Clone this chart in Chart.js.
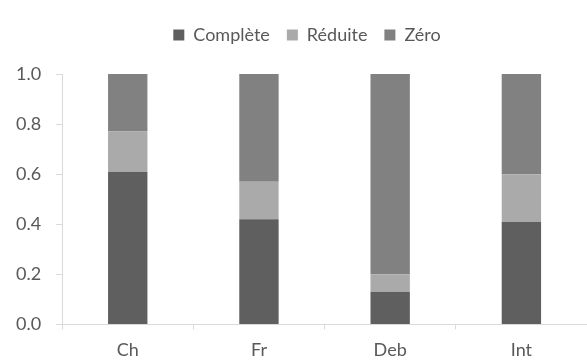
<!DOCTYPE html>
<html>
<head>
<meta charset="utf-8">
<script src="https://cdn.jsdelivr.net/npm/chart.js@4"></script>
<style>
  html, body { margin: 0; padding: 0; background: #fff; }
</style>
</head>
<body>
<canvas id="myChart" width="587" height="363"></canvas>
<script>
const categories = ['Ch', 'Fr', 'Deb', 'Int']
const completeValues = [0.61, 0.42, 0.13, 0.41]
const reduiteValues = [0.16, 0.15, 0.07, 0.19]
const zeroValues = [0.23, 0.43, 0.80, 0.40]
const yTicks = [0, 0.2, 0.4, 0.6, 0.8, 1.0]

const textColor = '#595959'
const axisColor = '#d9d9d9'
const fontFamily = 'Lato'

// push the plot area down below the legend and nudge the legend right
const legendSpacer = {
    id: 'legendSpacer',
    beforeInit(chart) {
        const fit = chart.legend.fit
        chart.legend.fit = function () {
            fit.bind(chart.legend)()
            this.height += 20
        }
    },
    afterLayout(chart) {
        chart.legend.left += 26
    }
}

let chart = new Chart('myChart', {
    type: 'bar',
    data: {
        labels: categories,
        datasets: [
            { label: 'Complète', data: completeValues, backgroundColor: '#5f5f5f' },
            { label: 'Réduite', data: reduiteValues, backgroundColor: '#aaaaaa' },
            { label: 'Zéro', data: zeroValues, backgroundColor: '#818181' }
        ]
    },
    plugins: [legendSpacer],
    options: {
        responsive: false,
        animation: false,
        layout: { padding: { left: 1, right: 0, top: 9, bottom: 4 } },
        datasets: { bar: { categoryPercentage: 1, barPercentage: 0.3 } },
        plugins: {
            legend: {
                position: 'top',
                labels: {
                    color: textColor,
                    font: { family: fontFamily, size: 18 },
                    boxWidth: 11,
                    boxHeight: 11,
                    padding: 17
                }
            },
            tooltip: { enabled: false }
        },
        scales: {
            x: {
                stacked: true,
                afterFit: axis => { axis.height -= 12 },
                grid: {
                    offset: true,
                    drawOnChartArea: false,
                    color: axisColor,
                    tickLength: 5
                },
                border: { color: axisColor },
                ticks: { color: textColor, font: { family: fontFamily, size: 18 }, padding: 10 }
            },
            y: {
                stacked: true,
                min: 0,
                max: 1,
                afterBuildTicks: axis => { axis.ticks = yTicks.map(v => ({ value: v })) },
                grid: {
                    drawOnChartArea: false,
                    color: axisColor,
                    tickLength: 6
                },
                border: { color: axisColor },
                ticks: {
                    color: textColor,
                    font: { family: fontFamily, size: 18 },
                    padding: 15,
                    callback: v => v.toFixed(1)
                }
            }
        }
    }
});
</script>
</body>
</html>
